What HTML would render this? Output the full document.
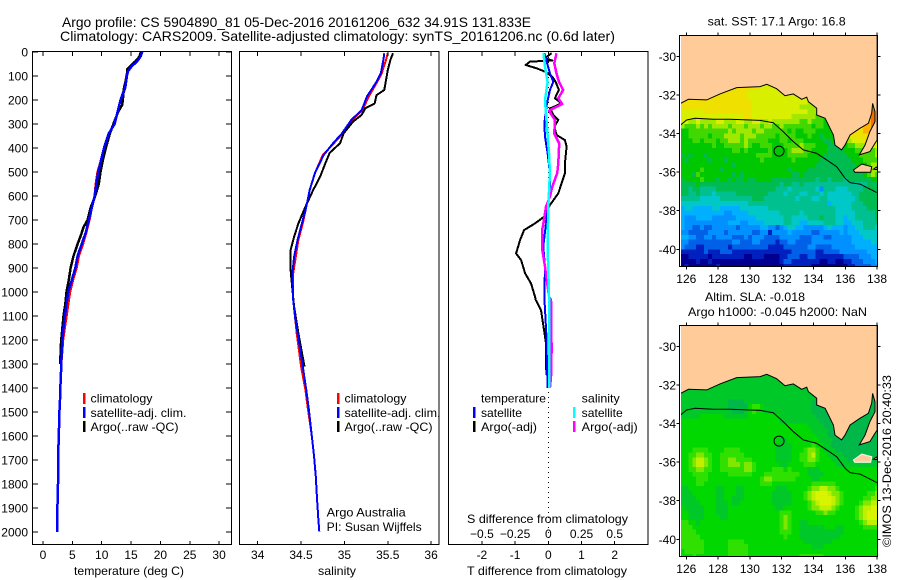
<!DOCTYPE html>
<html lang="en">
<head>
<meta charset="utf-8">
<title>Argo profile chart</title>
<style>
html,body{margin:0;padding:0;background:#fff;}
svg{display:block;}
text{font-family:"Liberation Sans",sans-serif;font-size:12px;fill:#000;}
.title{font-size:14px;}
</style>
</head>
<body>
<svg id="chart" width="900" height="580" viewBox="0 0 900 580" xmlns="http://www.w3.org/2000/svg">
  <rect width="900" height="580" fill="#fff"/>
  <text class="title" x="62" y="27" textLength="469" lengthAdjust="spacingAndGlyphs">Argo profile: CS 5904890_81 05-Dec-2016 20161206_632 34.91S 131.833E</text>
  <text class="title" x="60" y="41" textLength="555" lengthAdjust="spacingAndGlyphs">Climatology: CARS2009. Satellite-adjusted climatology: synTS_20161206.nc (0.6d later)</text>

  <text x="74" y="575" textLength="110" lengthAdjust="spacingAndGlyphs">temperature (deg C)</text>
  <text x="318" y="575" textLength="38" lengthAdjust="spacingAndGlyphs">salinity</text>
  <text x="467" y="575" textLength="160" lengthAdjust="spacingAndGlyphs">T difference from climatology</text>
  <text x="467" y="523" textLength="161" lengthAdjust="spacingAndGlyphs">S difference from climatology</text>

  <g id="layer-cells"></g>
  <g id="layer-plots"></g>

  <g>
    <rect x="83" y="393" width="2.5" height="11" fill="#f00"/>
    <rect x="83" y="407" width="2.5" height="11" fill="#00f"/>
    <rect x="83" y="421" width="2.5" height="11" fill="#000"/>
    <text x="90.5" y="402.7" textLength="62" lengthAdjust="spacingAndGlyphs">climatology</text>
    <text x="90.5" y="417" textLength="96" lengthAdjust="spacingAndGlyphs">satellite-adj. clim.</text>
    <text x="90.5" y="431" textLength="88" lengthAdjust="spacingAndGlyphs">Argo(..raw -QC)</text>
  </g>
  <g>
    <rect x="337" y="393" width="2.5" height="11" fill="#f00"/>
    <rect x="337" y="407" width="2.5" height="11" fill="#00f"/>
    <rect x="337" y="421" width="2.5" height="11" fill="#000"/>
    <text x="344.5" y="402.7" textLength="62" lengthAdjust="spacingAndGlyphs">climatology</text>
    <text x="344.5" y="417" textLength="96" lengthAdjust="spacingAndGlyphs">satellite-adj. clim.</text>
    <text x="344.5" y="431" textLength="88" lengthAdjust="spacingAndGlyphs">Argo(..raw -QC)</text>
    <text x="326.7" y="516.7" textLength="79" lengthAdjust="spacingAndGlyphs">Argo Australia</text>
    <text x="326.7" y="531" textLength="95" lengthAdjust="spacingAndGlyphs">PI: Susan Wijffels</text>
  </g>
  <g>
    <rect x="473" y="407" width="2.5" height="11" fill="#00f"/>
    <rect x="473" y="421" width="2.5" height="11" fill="#000"/>
    <rect x="573" y="407" width="2.5" height="11" fill="#0ff"/>
    <rect x="573" y="421" width="2.5" height="11" fill="#f0f"/>
    <text x="481" y="402.7" textLength="65" lengthAdjust="spacingAndGlyphs">temperature</text>
    <text x="481" y="417" textLength="41" lengthAdjust="spacingAndGlyphs">satellite</text>
    <text x="481" y="431" textLength="56" lengthAdjust="spacingAndGlyphs">Argo(-adj)</text>
    <text x="581.7" y="402.7" textLength="38" lengthAdjust="spacingAndGlyphs">salinity</text>
    <text x="581.7" y="417" textLength="41" lengthAdjust="spacingAndGlyphs">satellite</text>
    <text x="581.7" y="431" textLength="56" lengthAdjust="spacingAndGlyphs">Argo(-adj)</text>
  </g>

  <text x="707.7" y="25.5" textLength="138" lengthAdjust="spacingAndGlyphs">sat. SST: 17.1  Argo: 16.8</text>
  <text x="705" y="301" textLength="100" lengthAdjust="spacingAndGlyphs">Altim. SLA: -0.018</text>
  <text x="688" y="316" textLength="179" lengthAdjust="spacingAndGlyphs">Argo h1000: -0.045  h2000: NaN</text>
  <text transform="translate(891 547) rotate(-90)" textLength="172" lengthAdjust="spacingAndGlyphs">©IMOS 13-Dec-2016 20:40:33</text>
</svg>
<script>
// ---------- Depth axis ----------
const depthTicks = [0,100,200,300,400,500,600,700,800,900,1000,1100,1200,1300,1400,1500,1600,1700,1800,1900,2000];

// ---------- Temperature panel (deg C) ----------
const tempTicks = [0,5,10,15,20,25,30];
const tempSatDepth = [0,20,40,60,80,100,150,200,250,300,340,400,450,500,550,600,650,700,750,800,850,900,950,1000,1050,1100,1150,1200,1250,1300,1350,1400,1450,1500,1600,1700,1800,1850,1900,1950,2000];
const tempSat = [16.9,16.6,16,15.1,14.5,14.3,14,13.2,12.7,12.2,11.2,10.4,9.9,9.4,9.1,8.8,8.3,7.8,7.3,6.6,5.9,5.5,4.9,4.3,4,3.75,3.5,3.3,3.2,3.1,3.05,2.95,2.9,2.8,2.7,2.55,2.55,2.5,2.45,2.4,2.4];
const tempClim = [16.8,16.5,15.9,15,14.4,14.2,13.9,13.2,12.7,12.2,11.2,10.4,9.9,9.3,9,8.8,8.3,7.9,7.4,6.8,6.1,5.7,5.1,4.6,4.3,4,3.7,3.4,3.25,3.1,3.05,2.95,2.9,2.8,2.7,2.55,2.55,2.5,2.45,2.4,2.4];
const tempArgoDepth = [0,20,40,60,70,100,150,200,220,250,300,340,400,450,500,550,600,650,680,700,730,760,800,850,900,950,1000,1050,1100,1150,1200,1250,1300];
const tempArgo = [16.7,16.4,15.7,14.8,14.4,14.3,13.8,13.6,13.5,12.8,12,11.4,10.7,10.2,9.8,9.5,8.9,8.1,7.8,7.6,6.9,6.5,5.9,5.2,4.7,4.4,4,3.8,3.5,3.3,3.1,3,2.95];

// ---------- Salinity panel ----------
const salTicks = [34,34.5,35,35.5,36];
const salSatDepth = [5,33,89,124,186,242,283,340,380,430,505,575,645,714,783,853,922,1033,1103,1172,1311,1408,1491,1589,1686,1769,1867,1950,1998];
const salSat = [35.46,35.45,35.42,35.37,35.26,35.2,35.08,34.97,34.87,34.76,34.66,34.6,34.56,34.51,34.46,34.42,34.4,34.41,34.43,34.46,34.52,34.56,34.59,34.62,34.65,34.67,34.685,34.7,34.71];
const salClim = [35.5,35.48,35.43,35.38,35.28,35.21,35.09,34.98,34.88,34.75,34.66,34.6,34.56,34.52,34.47,34.44,34.41,34.41,34.43,34.45,34.5,34.55,34.58,34.62,34.65,34.67,34.685,34.7,34.71];
const salArgoDepth = [5,33,75,158,180,214,235,262,290,340,380,420,464,520,575,645,714,770,825,908,950,1061,1172,1311];
const salArgo = [35.56,35.53,35.5,35.46,35.37,35.35,35.24,35.2,35.1,34.99,34.95,34.83,34.78,34.72,34.64,34.55,34.47,34.42,34.38,34.38,34.39,34.42,34.47,34.54];

// ---------- Difference panel ----------
const diffTTicks = [-2,-1,0,1,2];
const diffSTicks = [-0.5,-0.25,0,0.25,0.5];
const diffSTickLabels = ["−0.5","−0.25","0","0.25","0.5"];
const dTArgoDepth = [5,26,36,40,54,68,82,103,124,158,193,214,235,262,283,311,346,367,394,464,505,547,589,637,686,714,742,783,839,867,922,964,1019,1033,1075,1158,1214,1345];
const dTArgo = [0.1,-0.1,0.12,-0.55,-0.68,-0.35,-0.1,0.12,0.22,0.32,0.2,0.4,0.05,0.15,0.3,0.18,0.25,0.5,0.55,0.5,0.5,0.4,0.3,0.05,-0.12,-0.4,-0.73,-0.85,-0.97,-0.82,-0.7,-0.52,-0.4,-0.38,-0.22,-0.13,-0.07,-0.06];
const dTSatDepth = [5,89,124,158,214,297,353,422,505,575,645,728,811,894,1019,1172,1311,1400];
const dTSat = [-0.12,0.05,0.15,0.05,-0.04,-0.12,-0.1,-0.02,0.05,0.05,-0.02,-0.08,-0.15,-0.1,-0.12,-0.06,-0.04,-0.02];
const dSSatDepth = [5,61,124,200,297,422,505,645,811,1019,1400];
const dSSat = [-0.037,-0.025,-0.005,-0.025,-0.012,0.005,0.012,0,-0.005,0.005,0.005];
const dSArgoDepth = [5,47,89,124,158,193,217,235,245,283,340,381,464,505,561,603,645,714,742,825,894,1019,1033,1241,1353,1400];
const dSArgo = [0.062,0.045,0.062,0.08,0.112,0.075,0.105,0.037,0.005,0.05,0.045,0.082,0.075,0.067,0.03,0.012,-0.017,-0.037,-0.047,-0.045,-0.025,0.005,0.02,0.025,0.02,0.012];

// ---------- Maps ----------
const lonTicks = [126,128,130,132,134,136,138];
const latTicks = [-30,-32,-34,-36,-38,-40];
const gridLonStart = 125.625;
const gridLatStart = -31.25;
const gridStep = 0.25;
const sstPalette = ["#000090","#0020c0","#0060e8","#0090ff","#00b0ff","#00c8c8","#00c090","#00bc50","#00c800","#40d800","#a0e800","#d8f000","#f0e000","#ffb000","#f07000"];
const slaPalette = ["#00b84a","#00c828","#00d800","#30e000","#80e800","#c0f000","#d8f400"];
const sstGrid = [
[12,12,12,12,12,12,12,12,12,12,12,12,12,12,12,12,12,12,12,12,11,11,11,11,11,11,11,11,11,11,11,11,11,11,11,11,11,11,11,11,11,11,11,11,11,11,11,11,11,11],
[12,12,12,12,12,12,12,12,12,12,12,12,12,12,12,12,12,12,12,12,11,11,11,11,11,11,11,11,11,11,11,11,11,11,11,11,11,11,11,11,11,11,11,11,11,11,11,11,11,11],
[12,12,12,12,12,12,12,12,12,12,12,12,12,12,12,12,12,11,11,11,11,11,11,11,11,11,11,11,11,11,11,11,11,11,11,11,11,11,11,11,11,11,11,11,11,11,11,11,11,11],
[12,12,12,12,12,12,12,12,12,12,12,12,12,12,12,12,12,11,11,11,11,11,11,11,11,11,11,11,11,11,11,11,11,11,11,11,11,10,10,10,10,10,10,10,10,10,10,10,10,10],
[12,12,12,12,12,12,12,12,12,12,12,12,12,12,12,12,12,12,11,11,11,11,11,11,11,11,11,11,11,11,11,11,10,10,10,10,10,10,10,10,10,10,10,10,10,10,10,10,10,10],
[12,12,12,12,12,12,12,12,12,12,12,12,12,12,12,12,12,12,11,11,11,11,11,11,11,11,11,11,11,11,10,10,10,10,10,10,10,10,10,10,9,9,9,9,9,9,9,9,9,9],
[11,11,11,11,11,11,12,12,12,12,12,12,12,12,12,12,12,12,11,11,11,11,11,11,11,11,11,11,11,11,11,11,10,10,10,10,10,10,10,10,9,9,9,9,9,9,9,9,14,14],
[11,11,11,11,11,11,11,11,11,11,11,11,11,11,11,11,12,12,11,11,11,11,11,11,11,11,11,11,10,10,10,10,10,10,9,9,9,9,9,9,8,8,8,8,8,8,13,14,14,14],
[11,11,10,10,11,10,10,10,10,11,11,10,10,10,11,11,10,10,11,11,10,10,11,10,10,10,10,10,10,10,9,9,10,9,9,9,8,8,9,8,8,8,8,8,8,8,12,13,14,14],
[10,9,9,9,10,9,10,9,10,10,10,10,9,10,10,10,9,10,10,10,9,10,10,9,9,10,9,9,9,9,9,9,9,8,9,9,8,8,8,8,8,8,8,8,11,12,13,13,14,14],
[8,8,9,9,9,9,9,9,9,9,9,9,10,9,10,10,10,10,9,10,10,9,9,9,9,9,9,8,9,8,8,9,9,9,8,8,8,8,8,8,8,8,10,11,12,12,13,13,13,13],
[8,8,9,9,9,9,9,8,9,9,9,10,10,10,10,9,10,10,10,9,9,9,9,9,8,9,9,9,9,8,8,8,9,8,8,7,8,8,8,8,8,9,11,12,12,12,12,12,12,12],
[8,8,8,9,9,8,9,9,9,8,9,9,10,10,10,9,10,9,9,9,9,9,8,8,8,9,9,8,9,9,9,8,8,8,8,8,7,7,8,8,8,9,10,11,11,11,12,12,10,11],
[8,8,8,8,8,8,8,8,9,8,8,9,9,9,9,9,10,9,8,8,9,9,9,8,8,8,9,9,9,9,10,9,9,9,8,8,8,7,7,7,8,8,9,9,10,10,10,11,11,11],
[8,8,8,8,8,8,8,8,8,8,8,8,8,9,9,8,9,8,8,8,8,8,9,8,8,8,8,9,10,10,10,9,9,8,8,8,8,7,7,7,7,8,8,8,9,9,9,9,9,10],
[7,8,7,8,8,8,7,8,8,8,8,8,8,8,8,8,8,8,8,9,9,9,9,8,8,8,8,9,9,9,9,9,8,8,8,8,7,7,7,7,7,7,8,8,8,9,9,9,9,10],
[8,7,8,8,8,8,8,7,8,8,8,7,8,8,8,8,8,8,8,8,9,8,8,8,8,8,8,8,9,8,8,8,8,8,8,7,7,7,7,7,7,7,7,8,8,8,9,9,9,9],
[8,8,8,8,8,8,8,8,8,8,8,8,8,7,8,8,8,8,8,8,8,8,8,8,8,8,8,8,8,8,8,8,8,8,7,7,7,7,7,7,7,7,7,7,8,8,8,9,10,10],
[8,8,8,8,8,9,8,8,8,8,7,8,8,8,8,8,8,8,8,8,8,8,8,8,8,8,8,7,8,8,8,8,7,7,7,7,7,7,7,7,7,7,7,7,7,8,8,9,10,10],
[8,8,8,7,9,8,8,8,8,8,8,8,8,7,8,7,8,8,8,8,8,8,8,8,8,8,8,8,7,7,8,7,7,7,7,7,7,7,7,7,7,7,7,7,7,7,8,9,10,9],
[7,8,8,8,8,9,8,8,8,7,8,8,7,8,7,7,8,7,7,8,8,8,8,7,7,7,7,7,7,7,7,7,7,7,6,7,7,6,7,7,7,6,7,7,7,7,7,7,8,8],
[7,7,7,7,8,7,7,7,7,7,7,7,7,7,7,7,7,7,7,7,7,7,7,7,7,6,7,7,6,6,7,6,6,6,6,6,6,6,6,6,6,6,6,6,6,6,6,7,7,7],
[7,7,6,7,7,6,6,6,6,7,7,7,7,7,7,7,7,7,7,7,7,7,7,7,6,6,6,5,6,6,6,6,6,6,5,3,6,6,6,5,5,5,6,6,6,6,7,7,7,7],
[7,7,6,6,7,6,6,6,5,6,6,6,6,6,7,7,7,7,7,7,7,7,6,6,6,6,5,6,6,6,5,5,6,6,6,5,6,5,5,5,5,5,5,6,6,7,7,7,7,7],
[6,6,6,6,6,5,5,5,5,5,6,6,6,6,6,6,6,6,7,7,7,6,6,6,6,6,6,6,6,5,6,6,6,5,5,6,6,5,5,5,5,5,5,5,6,7,7,7,7,7],
[5,5,5,5,5,5,5,5,5,5,5,5,5,5,5,5,5,6,6,6,6,6,6,6,6,6,6,6,6,6,6,6,6,6,6,6,6,4,5,5,5,5,5,6,6,6,7,7,7,7],
[4,5,5,4,4,4,4,4,5,5,4,4,4,4,4,5,5,5,5,5,5,5,6,6,6,6,6,6,6,6,6,6,6,6,6,6,6,6,6,5,5,5,5,6,6,6,6,7,7,7],
[4,4,4,4,4,4,4,4,4,4,4,3,3,4,4,4,4,5,5,5,5,5,5,5,5,6,6,6,6,6,5,6,6,6,6,6,6,6,6,5,5,5,5,5,6,6,6,6,6,7],
[4,3,3,3,4,4,4,4,3,3,3,3,3,3,4,4,4,4,4,5,5,5,5,5,5,5,6,6,5,5,5,5,6,6,6,7,6,6,6,5,5,4,5,5,6,6,6,6,6,7],
[4,3,3,3,3,3,3,3,3,3,3,3,4,4,4,3,3,4,4,4,4,5,5,5,5,5,6,6,5,5,4,4,5,5,5,5,6,6,6,5,5,4,4,5,5,5,6,6,6,6],
[4,3,3,2,2,3,2,2,3,3,3,3,3,3,2,3,3,3,3,3,4,4,3,3,2,3,4,5,5,4,4,3,3,3,3,3,4,5,4,4,4,3,4,4,5,5,6,6,6,5],
[3,3,2,2,2,2,2,3,3,3,3,2,3,3,3,3,3,3,2,2,3,3,1,3,3,3,3,4,3,3,3,3,3,2,2,3,3,3,3,3,4,3,4,4,4,5,5,5,5,5],
[4,4,3,3,2,2,3,3,2,3,3,3,3,2,2,2,3,2,3,3,3,2,2,2,2,3,3,3,3,3,2,2,2,3,3,3,2,2,3,3,3,3,3,4,4,4,5,5,5,5],
[3,3,2,2,2,2,2,2,2,2,2,2,2,3,3,2,2,2,3,3,2,2,2,2,1,2,2,3,3,2,2,2,2,3,3,3,3,3,3,3,3,3,3,4,4,4,4,4,5,5],
[3,2,2,2,1,1,2,2,2,2,2,2,1,2,2,2,2,2,2,2,2,2,1,1,1,1,2,2,2,2,2,2,3,3,2,2,2,2,3,3,3,3,3,3,4,4,4,4,4,4],
[1,1,1,1,1,1,2,1,1,1,2,2,2,1,1,1,1,1,1,1,1,1,1,1,1,1,1,1,2,2,2,2,2,2,1,1,2,2,2,2,3,3,3,3,3,3,3,4,4,4],
[0,0,1,1,1,1,1,0,1,1,1,1,1,1,1,1,0,0,1,1,1,0,0,0,0,1,1,2,2,2,1,1,2,2,1,1,1,1,1,1,1,2,2,2,2,3,3,3,4,4],
[0,0,0,0,1,0,0,1,0,0,0,0,0,0,0,0,0,0,0,0,0,0,0,0,0,1,2,2,1,1,1,1,1,1,1,0,0,1,1,0,0,1,1,2,2,2,3,3,3,4],
[0,1,0,0,0,0,0,0,0,1,0,0,0,0,0,0,0,0,0,0,0,0,0,0,0,0,1,1,1,1,1,1,1,0,0,0,0,0,0,0,0,0,1,1,2,2,2,2,3,3]
];
const slaGrid = [
[1,1,1,1,1,1,1,1,1,1,1,1,1,1,1,1,1,1,1,1,1,1,1,1,1,1,1,1,1,1,1,1,1,1,0,0,0,0,0,0,0,0,0,0,0,0,0,0,0,0],
[1,1,1,1,1,1,1,1,1,1,1,1,1,1,1,1,1,1,1,1,1,1,1,1,1,1,1,1,1,1,1,1,1,1,0,0,0,0,0,0,0,0,0,0,0,0,0,0,0,0],
[1,1,1,1,1,1,1,1,1,1,1,1,1,1,1,1,1,1,1,1,1,1,1,1,1,1,1,1,1,1,1,1,1,1,0,0,0,0,0,0,0,0,0,0,0,0,0,0,0,0],
[1,1,1,1,1,1,1,1,1,1,1,1,1,1,1,1,1,1,1,1,1,1,1,1,1,1,1,1,1,1,1,1,1,1,0,0,0,0,0,0,0,0,0,0,0,0,0,0,0,0],
[1,1,1,1,1,1,1,1,1,1,1,1,1,1,1,1,1,1,1,1,1,1,1,1,1,1,1,1,1,1,1,1,1,1,0,0,0,0,0,0,0,0,0,0,0,0,0,0,0,0],
[1,1,1,1,1,1,1,1,1,1,1,1,1,1,1,1,1,1,1,1,1,1,1,1,1,1,1,1,1,1,1,1,1,1,0,0,0,0,0,0,0,0,0,0,0,0,0,0,0,0],
[1,1,1,1,1,1,1,1,1,1,1,1,0,0,0,0,1,1,1,1,1,1,1,1,1,1,1,1,1,1,1,1,1,0,0,0,0,0,0,0,0,0,0,0,0,0,0,0,0,0],
[1,1,1,1,1,1,1,1,1,1,1,1,0,0,0,0,0,2,3,3,2,1,1,1,1,1,1,1,1,1,1,1,1,0,0,0,0,0,0,0,0,0,0,0,0,0,0,0,0,0],
[1,1,1,1,1,1,1,1,1,1,1,1,1,0,0,0,1,2,3,2,2,1,1,1,1,1,1,1,1,1,1,1,1,0,0,0,0,0,0,0,0,0,0,0,0,0,0,0,0,0],
[1,1,1,1,1,2,2,2,2,2,2,1,1,1,1,1,1,2,2,2,2,2,2,2,2,1,1,1,1,1,1,1,1,1,0,0,0,0,0,0,0,0,0,0,0,0,0,0,0,0],
[2,2,2,2,2,2,2,2,2,2,2,2,2,2,2,2,2,2,2,2,2,2,2,2,2,1,1,1,1,1,1,1,1,1,1,0,0,0,0,0,0,0,0,0,0,0,0,0,0,0],
[2,2,2,2,2,2,2,2,2,2,2,2,2,2,2,2,2,2,2,2,2,2,2,2,2,2,2,2,2,2,2,2,1,1,1,1,0,0,0,0,0,0,0,0,0,0,0,0,0,0],
[2,2,2,2,2,2,2,2,2,2,2,2,2,2,2,2,2,2,2,2,2,2,2,2,2,2,2,2,2,2,2,2,2,1,1,1,1,0,0,0,0,0,0,0,0,0,0,0,0,0],
[2,2,2,2,2,2,2,2,2,2,2,2,2,2,2,2,2,2,2,2,2,2,2,2,2,2,2,2,2,2,2,2,2,2,1,1,1,0,0,0,0,0,0,0,0,0,0,0,0,0],
[2,2,2,2,2,2,2,2,2,2,2,2,2,2,2,2,2,2,2,2,2,2,2,2,2,1,1,2,2,2,2,2,2,2,2,1,1,1,0,0,0,0,0,0,0,0,0,0,0,0],
[2,2,2,2,2,2,2,2,2,2,2,2,2,2,2,2,2,2,2,2,2,2,2,2,1,1,1,1,2,2,2,2,2,3,2,2,1,1,0,0,0,0,0,0,0,0,0,0,0,0],
[2,2,2,3,3,3,3,2,2,2,2,3,3,3,3,2,2,2,2,2,2,2,2,2,1,1,1,1,2,2,2,3,4,4,3,2,1,1,1,0,0,0,0,0,0,0,0,0,0,0],
[2,2,3,3,4,4,3,3,2,2,3,3,3,3,3,3,2,2,2,2,2,2,2,2,1,1,1,1,2,2,3,3,4,5,3,2,2,1,1,1,1,0,0,0,0,0,0,0,0,0],
[2,2,3,4,5,5,4,3,2,2,3,3,4,4,3,3,3,3,2,2,2,2,2,2,1,1,1,1,2,2,3,3,4,4,3,2,2,2,1,1,1,1,0,0,0,0,0,0,0,0],
[2,2,3,4,5,5,4,3,2,2,3,3,4,4,4,3,4,4,3,2,2,2,2,2,2,1,1,2,2,2,2,3,3,3,2,2,2,2,2,1,1,1,1,1,1,1,1,1,1,1],
[2,2,3,3,4,4,3,3,2,2,3,3,3,3,3,3,4,4,3,2,2,2,2,3,3,3,2,3,2,2,2,2,1,1,1,2,2,2,2,2,2,2,2,2,2,2,2,2,2,2],
[2,2,2,3,3,3,3,2,2,2,2,2,3,3,3,3,3,3,2,2,2,3,3,3,3,3,3,3,3,3,2,2,1,1,1,1,2,2,2,2,2,2,2,2,2,2,2,2,2,2],
[2,2,2,2,3,3,3,2,2,2,2,2,2,2,2,2,2,2,2,2,3,4,4,3,3,3,3,3,3,2,2,2,2,1,1,2,2,2,2,2,2,2,2,2,2,2,2,2,2,2],
[2,2,2,2,3,3,2,2,2,2,2,2,2,2,2,2,2,2,2,2,3,3,3,2,2,2,2,2,2,2,2,2,2,3,3,3,3,3,3,2,2,2,2,2,2,2,2,2,2,2],
[1,1,2,2,2,2,2,2,2,1,1,2,2,2,1,1,2,2,2,2,2,2,2,2,1,1,1,2,2,2,2,2,3,4,4,5,5,4,4,3,2,2,2,2,2,2,2,2,2,3],
[1,1,1,2,2,2,2,2,2,1,1,2,2,2,1,1,2,2,2,2,2,2,2,1,1,1,1,1,2,2,2,3,4,5,6,6,6,5,4,4,3,2,2,2,2,2,2,3,3,4],
[1,1,1,1,2,2,2,2,2,1,1,2,2,1,1,1,2,2,2,2,2,2,2,1,1,1,1,1,2,2,2,3,4,5,6,6,6,6,5,4,3,2,2,2,2,2,3,3,4,4],
[1,1,1,1,1,2,2,2,2,1,1,1,2,1,1,2,2,2,2,2,2,2,2,1,1,1,1,1,2,2,2,2,3,4,5,6,6,6,5,4,3,2,2,2,2,3,4,4,5,5],
[2,1,1,1,1,1,2,2,2,1,1,1,2,2,2,2,2,2,2,2,2,2,2,2,1,1,2,2,2,2,2,2,3,4,4,5,5,5,4,3,2,2,2,2,3,4,5,5,6,6],
[2,2,1,1,1,1,2,2,2,1,1,1,2,2,2,2,2,2,2,2,2,2,2,2,2,3,3,3,2,2,2,2,2,2,3,3,4,3,3,2,2,2,2,2,3,4,5,6,6,6],
[2,2,1,1,1,1,2,2,2,2,1,1,2,2,2,2,2,2,2,2,2,2,2,2,2,3,4,3,2,2,2,2,2,2,2,2,2,2,2,2,2,2,2,2,3,4,5,6,6,6],
[3,3,2,2,1,2,2,2,2,2,2,2,2,2,2,2,2,2,2,2,2,2,2,2,2,3,4,3,2,2,1,1,2,2,2,2,2,2,2,2,2,2,2,2,2,3,4,5,5,5],
[3,3,3,2,2,2,2,2,2,2,2,2,2,2,2,2,2,2,2,2,2,2,2,2,2,3,4,3,2,2,1,1,1,1,1,1,2,2,2,1,1,2,2,2,2,2,3,3,3,3],
[3,3,3,3,2,2,2,2,2,2,2,2,2,2,2,2,2,2,2,2,2,2,2,2,2,3,3,3,2,2,1,1,1,1,1,1,1,1,1,1,1,2,2,2,2,2,2,2,2,2],
[3,3,3,3,3,2,2,2,2,2,2,2,2,2,2,2,2,2,2,2,2,2,2,2,2,2,3,2,2,2,1,1,1,1,1,1,1,1,1,1,2,2,2,2,2,2,2,2,2,2],
[3,3,3,3,3,3,2,2,2,2,2,2,3,3,3,3,2,2,2,2,2,2,2,2,2,2,2,2,2,2,2,1,1,1,1,1,1,1,2,2,2,2,2,2,2,2,2,2,2,2],
[3,3,3,3,3,3,2,2,2,2,2,2,3,3,3,3,3,2,2,2,2,2,2,2,2,2,2,2,2,2,2,2,2,1,1,1,2,2,2,2,2,2,2,2,2,2,2,2,2,2],
[2,3,3,3,3,3,2,2,2,2,2,2,3,3,3,3,3,2,2,2,2,2,2,2,2,2,2,2,2,2,2,2,2,2,2,2,2,2,2,2,2,2,2,2,2,2,2,2,2,2],
[2,2,2,3,2,2,2,2,2,2,2,2,3,3,3,3,3,2,2,2,2,2,2,2,2,2,2,2,2,2,3,3,3,3,3,3,2,2,2,2,2,2,2,2,2,2,2,2,2,2]
];
const coastLon = [125.5,125.64,126.13,127.28,128.12,129.17,130.64,131.06,131.68,132.21,132.73,133.26,133.57,133.68,134.2,134.2,134.73,135.25,135.35,135.77,135.98,136.3,136.92,137.45,137.66,137.72,137.87,137.87,137.55,137.24,136.88,137.55,137.87,138,138,125.5];
const coastLat = [-32.5,-32.44,-32.23,-32.26,-31.95,-31.62,-31.57,-31.45,-31.68,-32.04,-31.95,-32.23,-32.12,-32.35,-32.69,-33.04,-33.21,-34.08,-34.6,-34.85,-34.6,-34.08,-33.73,-33.47,-32.95,-32.44,-32.87,-33.39,-33.9,-34.6,-35.11,-34.94,-34.51,-34.34,-28.9,-28.9];
const islandLon = [136.51,137.04,137.66,137.6,136.6];
const islandLat = [-35.89,-35.58,-35.72,-36.01,-36.01];
const capeLon = [137.77,138,138];
const capeLat = [-35.85,-35.72,-35.87];
const isobathLon = [125.56,126.02,126.55,127.7,128.75,130.64,131.47,132.1,132.73,133.36,134.2,134.83,135.46,135.99,136.3,136.93,137.98];
const isobathLat = [-33.61,-33.3,-33.21,-33.26,-33.26,-33.32,-33.44,-33.91,-34.42,-34.85,-35.03,-35.37,-35.72,-36.32,-36.55,-36.62,-37.06];
const profileLon = 131.833;
const profileLat = -34.91;

// ---------- Drawing helpers ----------
const NS = 'http://www.w3.org/2000/svg';
const cellLayer = document.getElementById('layer-cells');
const plotLayer = document.getElementById('layer-plots');
function shape(tag, attrs, parent){
  const el = document.createElementNS(NS, tag);
  for (const k in attrs) el.setAttribute(k, attrs[k]);
  parent.appendChild(el);
  return el;
}
const yDepth = d => 52 + d * 0.24;
const xTemp = v => 43 + v * 5.87;
const xSal = v => 257.7 + (v - 34) * 86.7;
const xDT = v => 548.3 + v * 33.2;
const xDS = v => 548.3 + v * 132.8;

function drawLine(name, parent, xs, ys, xf, yf, color, width){
  const pts = xs.map((v, i) => xf(v).toFixed(1) + ',' + yf(ys[i]).toFixed(1)).join(' ');
  const el = shape('polyline', {points: pts, fill: 'none', stroke: color, 'stroke-width': width, 'shape-rendering': 'crispEdges', 'stroke-linejoin': 'round'}, parent);
  
  
}
function drawTick(parent, x1, y1, x2, y2){
  const el = shape('line', {x1: x1, y1: y1, x2: x2, y2: y2, stroke: '#000', 'stroke-width': 1, 'shape-rendering': 'crispEdges'}, parent);
  
  
}
function drawLabel(parent, x, y, str, anchor){
  const el = shape('text', {x: x, y: y, 'text-anchor': anchor}, parent);
  el.textContent = str;
  
  
}
function drawFrame(name, parent, x, y, w, h){
  const el = shape('rect', {x: x, y: y, width: w, height: h, fill: 'none', stroke: '#000', 'stroke-width': 1, 'shape-rendering': 'crispEdges'}, parent);
  
  
}

// ---------- Temperature panel ----------
const PT = 52, PB = 545;
const g1 = shape('g', {}, plotLayer);


drawLine('climatology-temperature-line', g1, tempClim, tempSatDepth, xTemp, yDepth, '#f00', 2.5);
drawLine('argo-temperature-line', g1, tempArgo, tempArgoDepth, xTemp, yDepth, '#000', 2.5);
drawLine('satellite-temperature-line', g1, tempSat, tempSatDepth, xTemp, yDepth, '#00f', 2.5);
drawFrame('temperature-plot-frame', g1, 32.5, PT - 0.5, 199, PB - PT);
tempTicks.forEach(t => {
  drawTick(g1, xTemp(t), PT, xTemp(t), PT + 4);
  drawTick(g1, xTemp(t), PB, xTemp(t), PB - 4);
  drawLabel(g1, xTemp(t), 559, String(t), 'middle');
});
depthTicks.forEach(d => {
  drawTick(g1, 33, yDepth(d), 38, yDepth(d));
  drawTick(g1, 231, yDepth(d), 226, yDepth(d));
  drawLabel(g1, 28, yDepth(d) + 4.5, String(d), 'end');
});

// ---------- Salinity panel ----------
const g2 = shape('g', {}, plotLayer);


drawLine('climatology-salinity-line', g2, salClim, salSatDepth, xSal, yDepth, '#f00', 2);
drawLine('argo-salinity-line', g2, salArgo, salArgoDepth, xSal, yDepth, '#000', 2);
drawLine('satellite-salinity-line', g2, salSat, salSatDepth, xSal, yDepth, '#00f', 2);
drawFrame('salinity-plot-frame', g2, 239.5, PT - 0.5, 199.5, PB - PT);
salTicks.forEach(t => {
  drawTick(g2, xSal(t), PT, xSal(t), PT + 4);
  drawTick(g2, xSal(t), PB, xSal(t), PB - 4);
  drawLabel(g2, xSal(t), 559, String(t), 'middle');
});

// ---------- Difference panel ----------
const g3 = shape('g', {}, plotLayer);


const zeroLine = shape('line', {x1: xDT(0), y1: PT, x2: xDT(0), y2: PB, stroke: '#000', 'stroke-width': 1, 'stroke-dasharray': '1 4', 'shape-rendering': 'crispEdges'}, g3);


drawLine('argo-temperature-difference-line', g3, dTArgo, dTArgoDepth, xDT, yDepth, '#000', 2);
drawLine('satellite-temperature-difference-line', g3, dTSat, dTSatDepth, xDT, yDepth, '#00f', 2);
drawLine('argo-salinity-difference-line', g3, dSArgo, dSArgoDepth, xDS, yDepth, '#f0f', 2.5);
drawLine('satellite-salinity-difference-line', g3, dSSat, dSSatDepth, xDS, yDepth, '#0ff', 2.5);
drawFrame('difference-plot-frame', g3, 448.5, PT - 0.5, 199.5, PB - PT);
diffTTicks.forEach(t => {
  drawTick(g3, xDT(t), PT, xDT(t), PT + 4);
  drawTick(g3, xDT(t), PB, xDT(t), PB - 4);
  drawLabel(g3, xDT(t), 559, String(t), 'middle');
});
diffSTicks.forEach((t, i) => {
  drawLabel(g3, xDS(t), 538, diffSTickLabels[i], 'middle');
});

// ---------- Maps ----------
function drawMap(name, grid, palette, latZeroY, top, bottom, labelY, coastColor, islandStroke){
  const xLon = lon => 686.3 + (lon - 126) * 15.9;
  const yLat = lat => latZeroY + (-30 - lat) * 19.3;
  const L = 679.5, R = 877.5;
  const g = shape('g', {}, cellLayer);
  
  
  const clipId = name + '-clip';
  const defs = shape('defs', {}, g);
  const cp = shape('clipPath', {id: clipId}, defs);
  shape('rect', {x: L + 1.5, y: top, width: R - L - 1.5, height: bottom - top - 0.5}, cp);
  const body = shape('g', {'clip-path': 'url(#' + clipId + ')'}, g);
  grid.forEach((row, r) => {
    row.forEach((level, c) => {
      const lon0 = gridLonStart + c * gridStep;
      const lat0 = gridLatStart - r * gridStep;
      const x0 = xLon(lon0), x1 = xLon(lon0 + gridStep);
      const y0 = yLat(lat0), y1 = yLat(lat0 - gridStep);
      const cell = shape('rect', {x: x0, y: y0, width: x1 - x0 + 0.5, height: y1 - y0 + 0.5, fill: palette[level], 'shape-rendering': 'crispEdges'}, body);
      
      
    });
  });
  const toPts = (lons, lats) => lons.map((v, i) => xLon(v).toFixed(1) + ',' + yLat(lats[i]).toFixed(1)).join(' ');
  const land = shape('polygon', {points: toPts(coastLon, coastLat), fill: '#ffcc99', stroke: coastColor, 'stroke-width': 1}, body);
  
  
  const island = shape('polygon', {points: toPts(islandLon, islandLat), fill: '#ffcc99', stroke: islandStroke, 'stroke-width': 1}, body);
  
  
  const cape = shape('polygon', {points: toPts(capeLon, capeLat), fill: '#ffcc99', stroke: coastColor, 'stroke-width': 1}, body);
  
  
  const iso = shape('polyline', {points: toPts(isobathLon, isobathLat), fill: 'none', stroke: '#000', 'stroke-width': 1}, body);
  
  
  const marker = shape('circle', {cx: xLon(profileLon), cy: yLat(profileLat), r: 5, fill: 'none', stroke: '#000', 'stroke-width': 1}, g);
  
  
  drawFrame(name + '-frame', g, L, top, R - L, bottom - top);
  lonTicks.forEach(lon => {
    drawTick(g, xLon(lon), top, xLon(lon), top - 3);
    drawTick(g, xLon(lon), bottom, xLon(lon), bottom + 3);
    drawLabel(g, Math.min(xLon(lon), 877), labelY, String(lon), 'middle');
  });
  latTicks.forEach(lat => {
    drawTick(g, L, yLat(lat), L - 3, yLat(lat));
    drawTick(g, R, yLat(lat), R + 3, yLat(lat));
    drawLabel(g, 676, yLat(lat) + 4.5, String(lat), 'end');
  });
}
drawMap('sst-map', sstGrid, sstPalette, 56.3, 35.5, 266.5, 283, '#000', '#000');
drawMap('sla-map', slaGrid, slaPalette, 346.3, 325.5, 556.5, 573, '#000', '#fff');
</script>
</body>
</html>
